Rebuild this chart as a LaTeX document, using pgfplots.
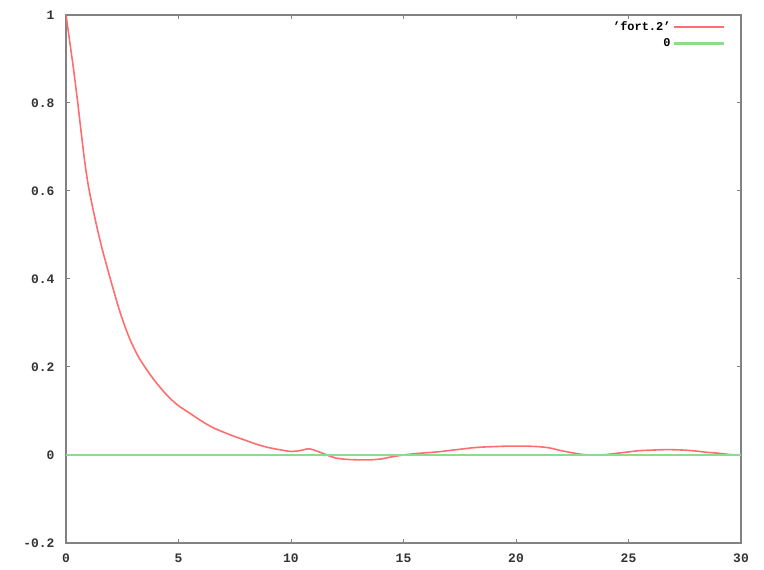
\documentclass[border=0pt]{standalone}
\usepackage{fontspec}
\setmainfont{Liberation Mono}
\usepackage{pgfplots}
\pgfplotsset{compat=1.18}
\definecolor{gpred}{RGB}{255,110,110}
\definecolor{gpgreen}{RGB}{140,220,140}
\definecolor{gpaxis}{RGB}{130,130,130}
\begin{document}
\begin{tikzpicture}
\begin{axis}[
  scale only axis,
  width=675bp, height=528bp,
  xmin=0, xmax=30, ymin=-0.2, ymax=1,
  xtick={0,5,...,30},
  ytick={-0.2,0,0.2,0.4,0.6,0.8,1},
  yticklabels={-0.2,0,0.2,0.4,0.6,0.8,1},
  tick align=inside,
  major tick length=4bp,
  tick style={gpaxis, line width=1bp},
  axis line style={gpaxis, line width=2bp},
  tick label style={font=\bfseries\fontsize{13}{14}\selectfont, text=black!80},
  /pgf/number format/assume math mode=true,
  xticklabel style={yshift=-7bp},
  yticklabel style={xshift=-8bp},
  legend style={draw=none, fill=none, at={(rel axis cs:0.981,0.995)}, anchor=north east,
    font=\bfseries\fontsize{12}{13}\selectfont, row sep=2.5bp,
    nodes={anchor=east}},
  legend cell align=right,
  legend plot pos=right,
  legend image code/.code={\path (0bp,0bp) -- (10bp,0bp); \draw[#1] (10bp,0bp) -- (50bp,0bp);},
]
\addplot[gpred, line width=1.6bp, smooth] coordinates {
(0,1.0) (0.3,0.89) (0.5,0.81) (0.8,0.68) (1.0,0.61) (1.3,0.535) (1.6,0.47)
(2.0,0.395) (2.4,0.325) (2.8,0.268) (3.2,0.225) (3.6,0.193) (4.0,0.165)
(4.5,0.135) (5.0,0.112) (5.5,0.095) (6.0,0.078) (6.5,0.063) (7.0,0.052)
(7.5,0.042) (8.0,0.033) (8.5,0.024) (9.0,0.017) (9.5,0.012) (10.0,0.008)
(10.4,0.010) (10.8,0.014) (11.2,0.008) (11.6,0.0) (12.0,-0.007) (12.5,-0.010)
(13.0,-0.011) (13.5,-0.011) (14.0,-0.009) (14.5,-0.004) (15.0,0.0)
(15.5,0.003) (16.0,0.005) (16.5,0.007) (17.0,0.010) (17.5,0.013) (18.0,0.016)
(18.5,0.018) (19.0,0.019) (19.5,0.020) (20.0,0.020) (20.5,0.020) (21.0,0.019)
(21.5,0.016) (22.0,0.010) (22.5,0.005) (23.0,0.001) (23.5,0.0) (24.0,0.001)
(24.5,0.004) (25.0,0.007) (25.5,0.010) (26.0,0.011) (26.5,0.012) (27.0,0.012)
(27.5,0.011) (28.0,0.009) (28.5,0.006) (29.0,0.004) (29.5,0.001) (30.0,-0.001)
};
\addlegendentry{'fort.2'}
\addplot[gpgreen, line width=2.5bp] coordinates {(0,0) (30,0)};
\addlegendentry{0}
\end{axis}
\path[use as bounding box] (-66bp,-27bp) rectangle (698bp,543bp);
\end{tikzpicture}
\end{document}
